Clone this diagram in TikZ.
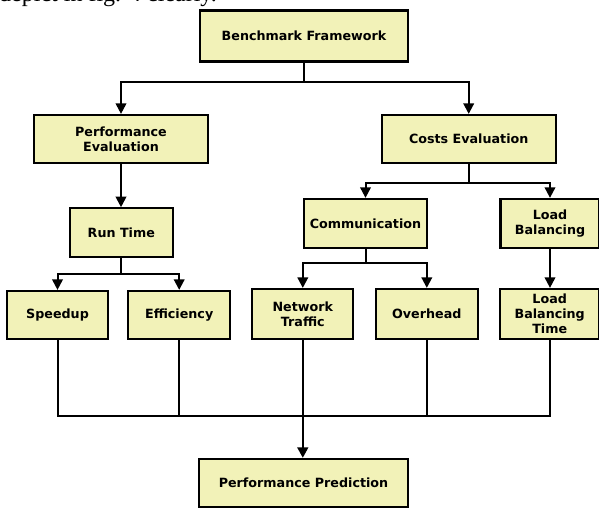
\documentclass[tikz,border=0pt]{standalone}
\usepackage{fontspec}
\setmainfont{DejaVu Sans}
\newfontfamily\serifpart{Liberation Serif}
\usetikzlibrary{arrows.meta}
\definecolor{boxfill}{HTML}{F2F2B8}
\tikzset{
  blk/.style={draw=black, line width=2.2pt, fill=boxfill, minimum width=#1, minimum height=48pt,
    inner sep=0pt, align=center, font=\fontsize{12.7pt}{15pt}\selectfont\bfseries},
  blk/.default=101pt,
  conn/.style={line width=2pt, line join=miter},
  arr/.style={conn, -{Triangle[width=10.5pt,length=10.5pt]}}
}
\begin{document}
\begin{tikzpicture}[x=1pt,y=1pt]
\useasboundingbox (0,0) rectangle (599,-508);
\clip (0,0) rectangle (599,-508);
% cut-off text fragment at top (as in the reference)
\node[anchor=base west, inner sep=0pt, font=\serifpart\fontsize{24pt}{24pt}\selectfont] (frag) at (-1,-2) {depict in fig. 4 clearly.};
% nodes
\node[blk=208pt, minimum height=51pt] (bf) at (304,-36) {Benchmark Framework};
\node[blk=174pt] (pe) at (121,-139) {Performance\\Evaluation};
\node[blk=174pt] (ce) at (468.7,-139) {Costs Evaluation};
\node[blk=102.7pt, minimum height=49pt] (rt) at (121.3,-232.8) {Run Time};
\node[blk=122.4pt, minimum height=48.7pt] (cm) at (365.5,-223.3) {Communication};
\node[blk=99pt, minimum height=48.7pt] (lb) at (550,-223.3) {Load\\Balancing};
\node[blk=100.4pt] (sp) at (57.5,-315) {Speedup};
\node[blk=101.7pt] (ef) at (179.2,-315) {Efficiency};
\node[blk=101pt, minimum height=50pt] (nt) at (302.8,-314) {Network\\Traffic};
\node[blk=101.7pt, minimum height=50pt] (ov) at (426.8,-314) {Overhead};
\node[blk=99.7pt, minimum height=50pt] (lbt) at (549.7,-314) {Load\\Balancing\\Time};
\node[blk=208.4pt] (pp) at (303.5,-483) {Performance Prediction};
% connectors
\coordinate (b1) at (0,-81.7);
\draw[arr] (bf.south) -- (bf.south |- b1) -| (pe.north);
\draw[arr] (bf.south |- b1) -| (ce.north);
\draw[arr] (pe.south) -- (pe.south |- rt.north);
\coordinate (b2) at (0,-274);
\draw[arr] (rt.south) -- (rt.south |- b2) -| (sp.north);
\draw[arr] (rt.south |- b2) -| (ef.north);
\coordinate (b3) at (0,-183.3);
\draw[arr] (ce.south) -- (ce.south |- b3) -| (cm.north);
\draw[arr] (ce.south |- b3) -| (lb.north);
\coordinate (b4) at (0,-262.7);
\draw[arr] (cm.south) -- (cm.south |- b4) -| (nt.north);
\draw[arr] (cm.south |- b4) -| (ov.north);
\draw[arr] (lb.south) -- (lb.south |- lbt.north);
% collector
\coordinate (bus) at (0,-416);
\draw[conn] (sp.south) |- (bus -| lbt.south) -- (lbt.south);
\draw[conn] (ef.south) -- (ef.south |- bus);
\draw[conn] (ov.south) -- (ov.south |- bus);
\draw[conn] (nt.south) -- (nt.south |- bus);
\draw[arr, line width=2.6pt] (nt.south |- bus) -- (nt.south |- pp.north);
\end{tikzpicture}
\end{document}
